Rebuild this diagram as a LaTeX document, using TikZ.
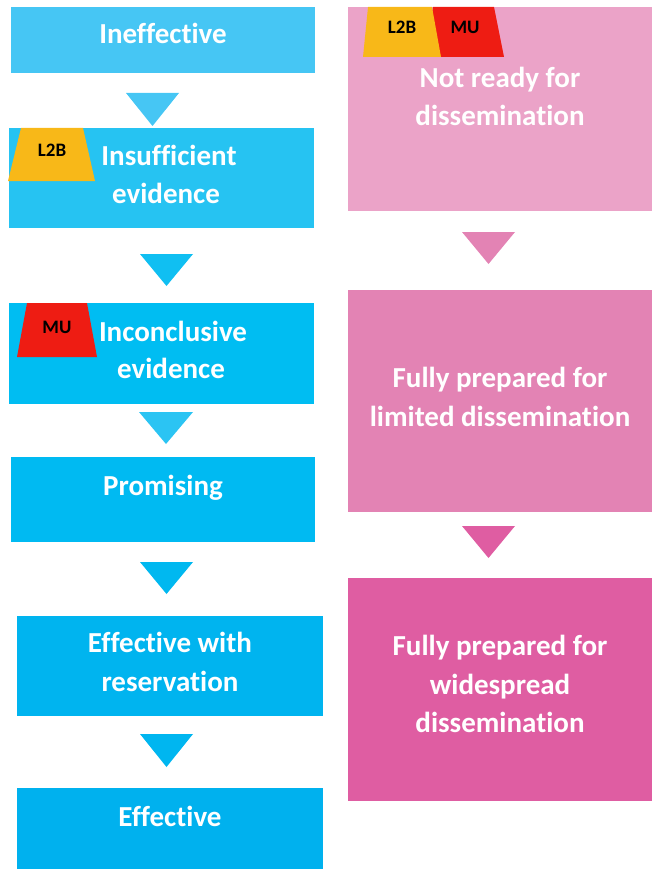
\documentclass[tikz,border=0pt]{standalone}
\usepackage{fontspec}
\setmainfont{Carlito}[Ligatures={NoCommon,NoContextual}]
\definecolor{blueA}{HTML}{46C6F4}
\definecolor{blueB}{HTML}{26C3F2}
\definecolor{blueBt}{HTML}{10BFF2}
\definecolor{blueC}{HTML}{00BDF2}
\definecolor{blueCt}{HTML}{2BC4F3}
\definecolor{blueD}{HTML}{00BAF2}
\definecolor{blueDt}{HTML}{00B8F0}
\definecolor{blueE}{HTML}{00B4EF}
\definecolor{blueEt}{HTML}{00B6F0}
\definecolor{blueF}{HTML}{00B1EE}
\definecolor{pinkA}{HTML}{EBA3C8}
\definecolor{pinkB}{HTML}{E383B4}
\definecolor{pinkC}{HTML}{DF5DA2}
\definecolor{tagorange}{HTML}{F8B818}
\definecolor{tagred}{HTML}{EE1C13}
\begin{document}
\begin{tikzpicture}[x=1pt,y=-1pt,
  stage/.style={inner sep=0pt, outer sep=0pt, anchor=north west},
  ttl/.style={text=white, font=\bfseries\fontsize{29}{35}\selectfont, anchor=base, inner sep=0pt},
  tagtext/.style={text=black, font=\bfseries\fontsize{19}{23}\selectfont, anchor=base, inner sep=0pt}]
\useasboundingbox (0,0) rectangle (652,869);

% ---- evidence ladder (left column) ----
\node[stage, fill=blueA, minimum width=304pt, minimum height=66pt]  (ineff)  at (11,7)   {};
\node[stage, fill=blueB, minimum width=305pt, minimum height=100pt] (insuf)  at (9,128)  {};
\node[stage, fill=blueC, minimum width=305pt, minimum height=101pt] (incon)  at (9,303)  {};
\node[stage, fill=blueD, minimum width=304pt, minimum height=85pt]  (prom)   at (11,457) {};
\node[stage, fill=blueE, minimum width=306pt, minimum height=100pt] (effres) at (17,616) {};
\node[stage, fill=blueF, minimum width=306pt, minimum height=81pt]  (eff)    at (17,788) {};

% step-down arrows
\fill[blueA]  (126,93)  -- (179,93)  -- (152.5,126) -- cycle;
\fill[blueBt] (140,254) -- (193,254) -- (166.5,286) -- cycle;
\fill[blueCt] (139,412) -- (193,412) -- (166,444)   -- cycle;
\fill[blueDt] (140,562) -- (193,562) -- (166.5,594) -- cycle;
\fill[blueEt] (140,734) -- (193,734) -- (166.5,767) -- cycle;

% ---- dissemination readiness (right column) ----
\node[stage, fill=pinkA, minimum width=304pt, minimum height=204pt] (notready) at (348,7)   {};
\node[stage, fill=pinkB, minimum width=304pt, minimum height=222pt] (limited)  at (348,290) {};
\node[stage, fill=pinkC, minimum width=304pt, minimum height=223pt] (wide)     at (348,578) {};

\fill[pinkB] (462,232) -- (515,232) -- (488.5,264) -- cycle;
\fill[pinkC] (462,526) -- (515,526) -- (488.5,558) -- cycle;

% ---- tags ----
\fill[tagorange] (21,128) -- (83,128) -- (95,181) -- (8,181) -- cycle;
\node[tagtext] (tagA) at (52,157) {L2B};
\fill[tagred] (27,303) -- (87,303) -- (97,357) -- (17,357) -- cycle;
\node[tagtext] (tagB) at (57,333) {MU};
\fill[tagred] (433,7) -- (494,7) -- (504,57) -- (425,57) -- cycle;
\fill[tagorange] (368,7) -- (432,7) -- (441,57) -- (363,57) -- cycle;
\node[tagtext] (tagC) at (402,34) {L2B};
\node[tagtext] (tagD) at (465,34) {MU};

% ---- titles ----
\node[ttl] (t1)  at (163,44)  {Ineffective};
\node[ttl] (t2a) at (169,166) {Insufficient};
\node[ttl] (t2b) at (166,204) {evidence};
\node[ttl] (t3a) at (173,341) {Inconclusive};
\node[ttl] (t3b) at (171,378) {evidence};
\node[ttl] (t4)  at (163,495) {Promising};
\node[ttl] (t5a) at (170,652) {Effective with};
\node[ttl] (t5b) at (170,691) {reservation};
\node[ttl] (t6)  at (170,826) {Effective};

\node[ttl] (r1a) at (500,88)  {Not ready for};
\node[ttl] (r1b) at (500,126) {dissemination};
\node[ttl] (r2a) at (500,387) {Fully prepared for};
\node[ttl] (r2b) at (500,426) {limited dissemination};
\node[ttl] (r3a) at (500,655) {Fully prepared for};
\node[ttl] (r3b) at (500,694) {widespread};
\node[ttl] (r3c) at (500,732) {dissemination};
\end{tikzpicture}
\end{document}
